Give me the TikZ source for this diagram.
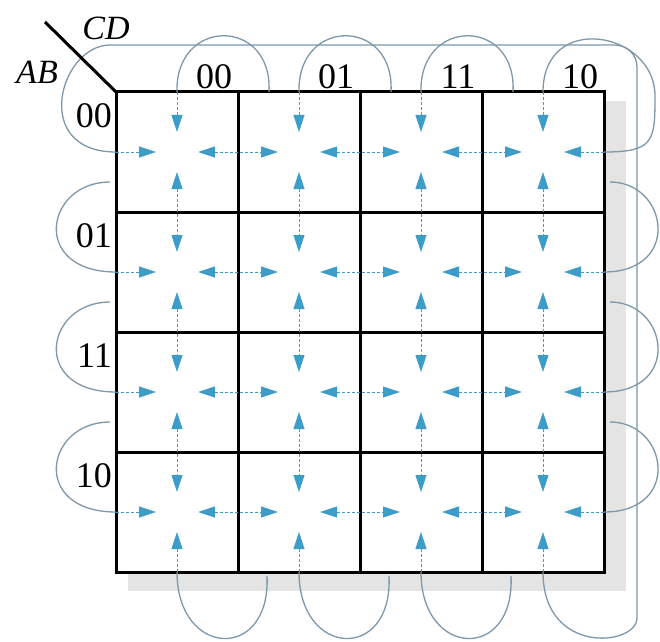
\documentclass[tikz,border=0pt]{standalone}
\usepackage{fontspec}
\setmainfont{Liberation Serif}
\usetikzlibrary{arrows.meta}
\definecolor{kmapblue}{HTML}{3E9CC9}
\definecolor{kmaploop}{HTML}{7D97AB}
\definecolor{kmapshade}{HTML}{E4E4E4}
\tikzset{every node/.style={font=\fontsize{34}{40}\selectfont},
  cellbox/.style={draw=black,fill=white,line width=3pt,minimum width=122pt,
    minimum height=120pt,inner sep=0pt,outer sep=0pt},
  hub/.style={minimum width=42pt,minimum height=40pt,inner sep=0pt,outer sep=0pt},
  adj/.style={draw=kmapblue,line width=0.9pt,dash pattern=on 3pt off 2pt,
    >={Triangle[length=17pt,width=11pt]}},
  wrap/.style={draw=kmaploop,line width=1.3pt},
  maplabel/.style={font=\fontsize{36}{40}\selectfont,inner sep=1pt},
  varlabel/.style={font=\itshape\fontsize{34}{40}\selectfont,inner sep=1pt}}
\begin{document}
\begin{tikzpicture}[x=1pt,y=1pt]
  \path[use as bounding box] (0,0) rectangle (660,641);
  \fill[kmapshade] (128,50) rectangle (626,540);
  \foreach \r in {0,...,3}
    \foreach \c in {0,...,3} {
      \node[cellbox] (c-\r-\c) at ({177+122*\c},{489-120*\r}) {};
      \node[hub] (h-\r-\c) at ({177+122*\c},{489-120*\r}) {};
    }
  \foreach \c in {0,1,2} {
    \draw[wrap] (c-0-\c.north) .. controls +(-2,75) and +(4,75) .. +(92,0);
    \draw[wrap] (c-3-\c.south) .. controls +(0,-86) and +(4,-86) .. +(90,-4);
  }
  \foreach \r in {1,2,3} {
    \draw[wrap] (c-\r-0.west) .. controls +(-86,0) and +(-65,0) .. +(-6,90);
    \draw[wrap] (c-\r-3.east) .. controls +(78,0) and +(58,0) .. +(6,90);
  }
  \draw[wrap] (c-0-3.north) .. controls +(0,81) and +(0,65) .. (655,545)
    .. controls +(0,-45) and +(50,0) .. (c-0-3.east);
  \draw[wrap] (c-0-0.west) .. controls +(-86,0) and +(-50,0) .. (110,596)
    [rounded corners=22pt] -- (637,596) -- (637,45) [sharp corners]
    .. controls (637,-5) and (543,-15) .. (c-3-3.south);
  \foreach \r in {0,...,3}
    \foreach \c/\n in {0/1,1/2,2/3}
      \draw[adj,<->] (h-\r-\c.east) -- (h-\r-\n.west);
  \foreach \c in {0,...,3}
    \foreach \r/\n in {0/1,1/2,2/3}
      \draw[adj,<->] (h-\r-\c.south) -- (h-\n-\c.north);
  \foreach \c in {0,...,3} {
    \draw[adj,->] (c-0-\c.north) -- (h-0-\c.north);
    \draw[adj,->] (c-3-\c.south) -- (h-3-\c.south);
  }
  \foreach \r in {0,...,3} {
    \draw[adj,->] (c-\r-0.west) -- (h-\r-0.west);
    \draw[adj,->] (c-\r-3.east) -- (h-\r-3.east);
  }
  \draw[line width=3pt] (c-0-0.north west) -- +(-71,70);
  \node[varlabel] (cd) at (106,613) {CD};
  \node[varlabel] (ab) at (37,569) {AB};
  \foreach \c/\t in {0/00,1/01,2/11,3/10}
    \node[maplabel] (cd-\c) at ({214+122*\c},564) {\t};
  \foreach \r/\t in {0/00,1/01,2/11,3/10}
    \node[maplabel,anchor=east] (ab-\r) at (113,{525-120*\r}) {\t};
\end{tikzpicture}
\end{document}
